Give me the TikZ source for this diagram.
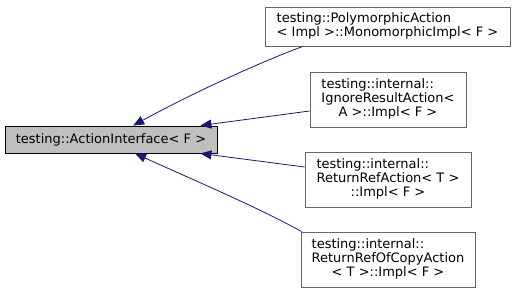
\documentclass[tikz,border=0pt]{standalone}
\usepackage{fontspec}
\setmainfont{DejaVu Sans}
\usetikzlibrary{arrows.meta,calc}
\definecolor{edgeblue}{HTML}{191970}
\definecolor{rootfill}{HTML}{BFBFBF}
\definecolor{boxline}{HTML}{666666}
\tikzset{
  cls/.style={draw=boxline, fill=white, line width=0.9pt, inner sep=0pt,
    font=\fontsize{13}{14}\selectfont, text=black},
  rootcls/.style={cls, draw=black, fill=rootfill},
  inherit/.style={draw=edgeblue, line width=0.8pt,
    -{Triangle[length=11pt,width=9pt]}},
}
\newcommand{\cltext}[3]{\begin{tabular}{@{}l@{}}#1\\#2\\\multicolumn{1}{@{}c@{}}{#3}\end{tabular}}
\begin{document}
\begin{tikzpicture}[x=1pt,y=-1pt]
  \useasboundingbox (0,0) rectangle (516,293);

  % base class
  \node[rootcls, minimum width=212pt, minimum height=27pt] (root) at (111,139.5)
    {testing::ActionInterface< F >};

  % derived implementations
  \node[cls, minimum width=245pt, minimum height=39pt] (b1) at (387.5,26.5)
    {\begin{tabular}{@{}l@{}}testing::PolymorphicAction\\\multicolumn{1}{@{}c@{}}{< Impl >::MonomorphicImpl< F >}\end{tabular}};
  \node[cls, minimum width=156pt, minimum height=55pt] (b2) at (388,99.5)
    {\cltext{testing::internal::}{IgnoreResultAction<}{A >::Impl< F >}};
  \node[cls, minimum width=166pt, minimum height=55pt] (b3) at (388,179.5)
    {\cltext{testing::internal::}{ReturnRefAction< T >}{::Impl< F >}};
  \node[cls, minimum width=174pt, minimum height=55pt] (b4) at (388,259.5)
    {\cltext{testing::internal::}{ReturnRefOfCopyAction}{< T >::Impl< F >}};

  % attachment points
  \coordinate (s1) at ($(b1.south west)!0.155!(b1.south east)$);
  \coordinate (t1) at ($(root.north west)!0.604!(root.north east)$);
  \coordinate (s2) at ([yshift=-11.5pt]b2.west);
  \coordinate (t2) at ($(root.north west)!0.92!(root.north east)$);
  \coordinate (s3) at ([yshift=12.5pt]b3.west);
  \coordinate (t3) at ($(root.south west)!0.92!(root.south east)$);
  \coordinate (s4) at ([xshift=1pt]b4.north west);
  \coordinate (t4) at ($(root.south west)!0.613!(root.south east)$);

  % inheritance arrows
  \draw[inherit] (s1) .. controls ($(s1)+(-38,14)$) and ($(t1)+(62,-34)$) .. (t1);
  \draw[inherit] (s2) -- (t2);
  \draw[inherit] (s3) -- (t3);
  \draw[inherit] (s4) .. controls ($(s4)+(-41,-23)$) and ($(t4)+(55,25)$) .. (t4);
\end{tikzpicture}
\end{document}
